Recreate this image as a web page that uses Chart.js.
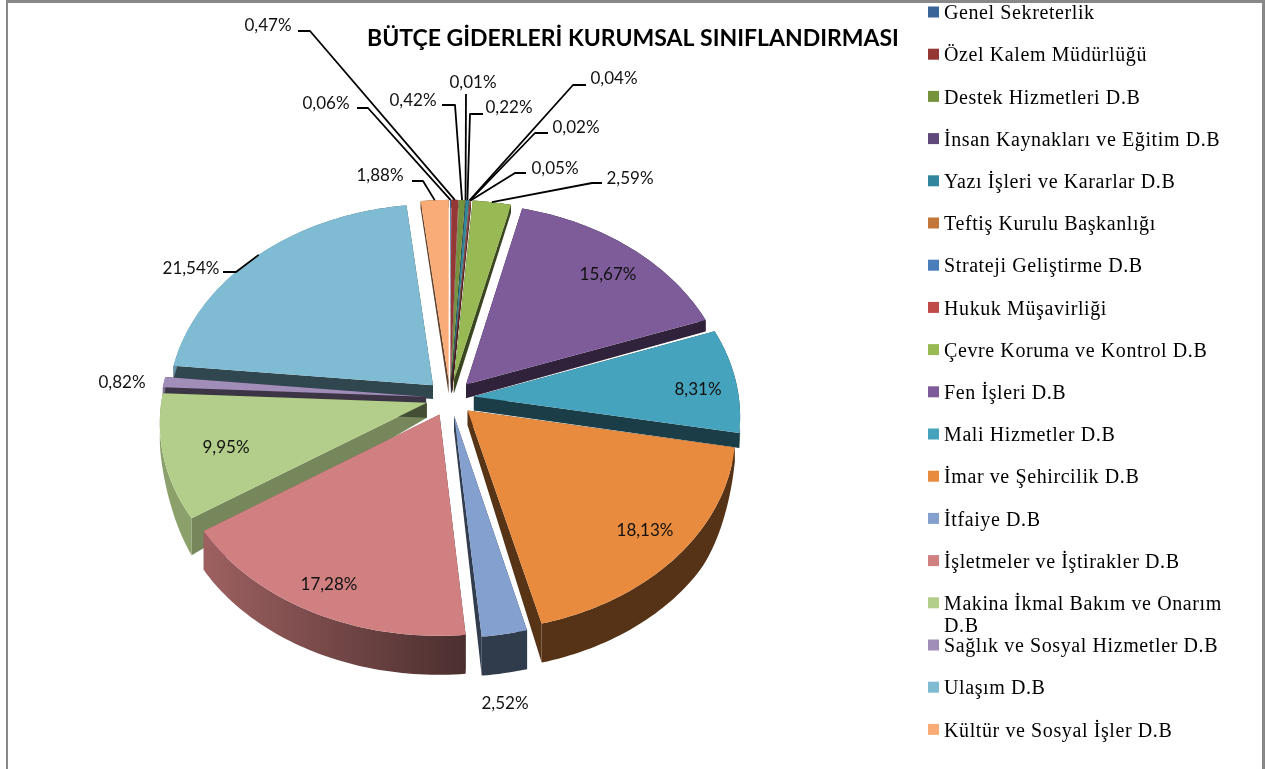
<!DOCTYPE html>
<html lang="tr"><head><meta charset="utf-8">
<style>html,body{margin:0;padding:0;background:#fff;overflow:hidden}#w{position:relative;width:1266px;height:769px}canvas{display:block}</style>
<script src="https://cdn.jsdelivr.net/npm/chart.js@4/dist/chart.umd.js"></script>
</head><body><div id="w"><canvas id="c" width="1266" height="769"></canvas></div>
<script>
const titleText = 'BÜTÇE GİDERLERİ KURUMSAL SINIFLANDIRMASI';
const categories = ['Genel Sekreterlik','Özel Kalem Müdürlüğü','Destek Hizmetleri D.B','İnsan Kaynakları ve Eğitim D.B','Yazı İşleri ve Kararlar D.B','Teftiş Kurulu Başkanlığı','Strateji Geliştirme D.B','Hukuk Müşavirliği','Çevre Koruma ve Kontrol D.B','Fen İşleri D.B','Mali Hizmetler D.B','İmar ve Şehircilik D.B','İtfaiye D.B','İşletmeler ve İştirakler D.B','Makina İkmal Bakım ve Onarım D.B','Sağlık ve Sosyal Hizmetler D.B','Ulaşım D.B','Kültür ve Sosyal İşler D.B'];
const values = [0.06,0.47,0.42,0.01,0.22,0.04,0.02,0.05,2.59,15.67,8.31,18.13,2.52,17.28,9.95,0.82,21.54,1.88];
const colors = ['#3A6598','#953735','#76923C','#5F497A','#31859C','#C4773A','#4A7EBB','#BE4B48','#98B954','#7D5C99','#46A3BD','#E98B3E','#83A0CF','#D08080','#B3CE8A','#A08DB8','#7FBCD3','#FAAC78'];

// label layout: text centre, then the elbow of the leader (if any)
const labelCenters = [[326,103],[268,25],[413,100],[473,82],[509,107],[614,78],[576,127],[555,168],[630,178],[608,274],[698,389],[645,530],[505,703],[329,584],[226,447],[122,382],[191,268],[380,175]];
const leaderElbows = [[357,108,368,108],[298,31,310,31],[442,105,455,105],[466,94,466,94],[483,114,470,114],[586,85,573,85],[548,133,535,133],[526,173,515,173],[602,183,592,183],null,null,null,null,null,null,null,[223,272,236,272],[412,181,423,181]];

const EXPLODE_PX = 24, SQUASH = 0.758, PERSP_X = 0.095, PERSP_Y = 0.0875;
const LEGEND_X = 928, LEGEND_TEXT_X = 944, LEGEND_Y0 = 12, LEGEND_STEP = 42.2;

function depth(v){
  if(v < 0) return Math.max(8, 14 + 6*v);
  const t = Math.min(1, Math.max(0, (v-0.2)/0.45));
  return 15 + 24*t*t*(3-2*t);
}
function proj(el, u, v, below){
  const a = el.outerRadius, b = a*SQUASH;
  return [el.x + a*u*(1+PERSP_X*v), el.y + b*v*(1+PERSP_Y*v) + (below ? depth(v) : 0)];
}
function off(el){
  const m = (el.startAngle+el.endAngle)/2, e = (el.options.offset||0)/el.outerRadius;
  return [Math.cos(m)*e, Math.sin(m)*e];
}
function rimPts(el){
  const [ox,oy] = off(el), pts = [], n = Math.max(2, Math.ceil((el.endAngle-el.startAngle)/0.02));
  for(let i=0;i<=n;i++){
    const t = el.startAngle + (el.endAngle-el.startAngle)*i/n;
    pts.push([Math.cos(t)+ox, Math.sin(t)+oy]);
  }
  return pts;
}
function shade(hex,f){
  const n = parseInt(hex.slice(1),16);
  return `rgb(${(n>>16&255)*f|0},${(n>>8&255)*f|0},${(n&255)*f|0})`;
}
function poly(ctx,pts,fill){
  ctx.beginPath();
  pts.forEach((p,i)=> i ? ctx.lineTo(p[0],p[1]) : ctx.moveTo(p[0],p[1]));
  ctx.closePath(); ctx.fillStyle = fill; ctx.fill();
}
// Top face of each slice, drawn by the library's own arc element.
Chart.ArcElement.prototype.draw = function(ctx){
  const [ox,oy] = off(this), pts = [proj(this,ox,oy,false)];
  rimPts(this).forEach(p=>pts.push(proj(this,p[0],p[1],false)));
  poly(ctx,pts,this.options.backgroundColor);
};
function drawSide(ctx,el){
  const col = el.options.backgroundColor, [ox,oy] = off(el), rim = rimPts(el);
  const deg = a => (((a+Math.PI/2)*180/Math.PI)%360+360)%360;
  [[el.startAngle,rim[0]],[el.endAngle,rim[rim.length-1]]].forEach(([ang,p])=>{
    const d = deg(ang), f = (d>200 && d<260) ? 0.66 : 0.38;
    poly(ctx,[proj(el,ox,oy,false),proj(el,p[0],p[1],false),proj(el,p[0],p[1],true),proj(el,ox,oy,true)],shade(col,f));
  });
  const g = ctx.createLinearGradient(el.x-0.98*el.outerRadius,0,el.x+0.05*el.outerRadius,0);
  g.addColorStop(0,shade(col,0.78)); g.addColorStop(1,shade(col,0.37));
  const top = rim.map(p=>proj(el,p[0],p[1],false)), bot = rim.map(p=>proj(el,p[0],p[1],true)).reverse();
  poly(ctx,top.concat(bot),g);
}
const pie3d = {
  id:'pie3d',
  afterLayout(chart){
    const t = chart.titleBlock;
    t.left = 0; t.right = chart.width; t.width = chart.width; t.top = 25; t.bottom = t.top + t.height;
  },
  beforeDraw(chart){
    const ctx = chart.ctx;
    ctx.save(); ctx.fillStyle = '#888888';
    ctx.fillRect(6,0,2,769); ctx.fillRect(6,0,1258,3); ctx.fillRect(1262,0,3,769);
    ctx.restore();
  },
  beforeDatasetsDraw(chart){
    const ctx = chart.ctx, arcs = chart.getDatasetMeta(0).data.slice();
    arcs.sort((p,q)=>Math.sin((p.startAngle+p.endAngle)/2)-Math.sin((q.startAngle+q.endAngle)/2));
    ctx.save(); arcs.forEach(el=>drawSide(ctx,el)); ctx.restore();
  },
  afterDatasetsDraw(chart){
    const ctx = chart.ctx, arcs = chart.getDatasetMeta(0).data;
    ctx.save();
    ctx.strokeStyle = '#000'; ctx.lineWidth = 1.8; ctx.lineJoin = 'round';
    arcs.forEach((el,i)=>{
      const L = leaderElbows[i]; if(!L) return;
      const m = (el.startAngle+el.endAngle)/2, [ox,oy] = off(el);
      const end = proj(el,Math.cos(m)+ox,Math.sin(m)+oy,false);
      ctx.beginPath(); ctx.moveTo(L[0],L[1]); ctx.lineTo(L[2],L[3]); ctx.lineTo(end[0],end[1]); ctx.stroke();
    });
    ctx.font = '17px Lato'; ctx.fillStyle = '#111'; ctx.textAlign = 'center'; ctx.textBaseline = 'middle';
    values.forEach((v,i)=>{
      ctx.fillText(v.toFixed(2).replace('.',',')+'%',labelCenters[i][0],labelCenters[i][1]+1);
    });
    // legend
    ctx.textAlign = 'left';
    ctx.font = '20px "Liberation Serif"';
    ctx.letterSpacing = '0.6px';
    categories.forEach((name,i)=>{
      const y = LEGEND_Y0 + i*LEGEND_STEP;
      ctx.fillStyle = colors[i]; ctx.fillRect(LEGEND_X,y-5.5,11,11);
      ctx.fillStyle = '#000';
      if(name.startsWith('Makina')){
        ctx.fillText('Makina İkmal Bakım ve Onarım',LEGEND_TEXT_X,y+2);
        ctx.fillText('D.B',LEGEND_TEXT_X,y+24);
      } else ctx.fillText(name,LEGEND_TEXT_X,y+2);
    });
    ctx.restore();
  }
};
new Chart(document.getElementById('c'),{
  type:'pie',
  data:{labels:categories,datasets:[{data:values,backgroundColor:colors,borderWidth:0,offset:EXPLODE_PX}]},
  options:{
    responsive:false,animation:false,
    layout:{padding:{left:173,right:539,top:93.4,bottom:94}},
    plugins:{
      legend:{display:false},tooltip:{enabled:false},
      title:{display:true,text:titleText,color:'#000',font:{family:'Lato',size:23,weight:'bold',lineHeight:1.2},padding:0}
    }
  },
  plugins:[pie3d]
});
</script></body></html>
